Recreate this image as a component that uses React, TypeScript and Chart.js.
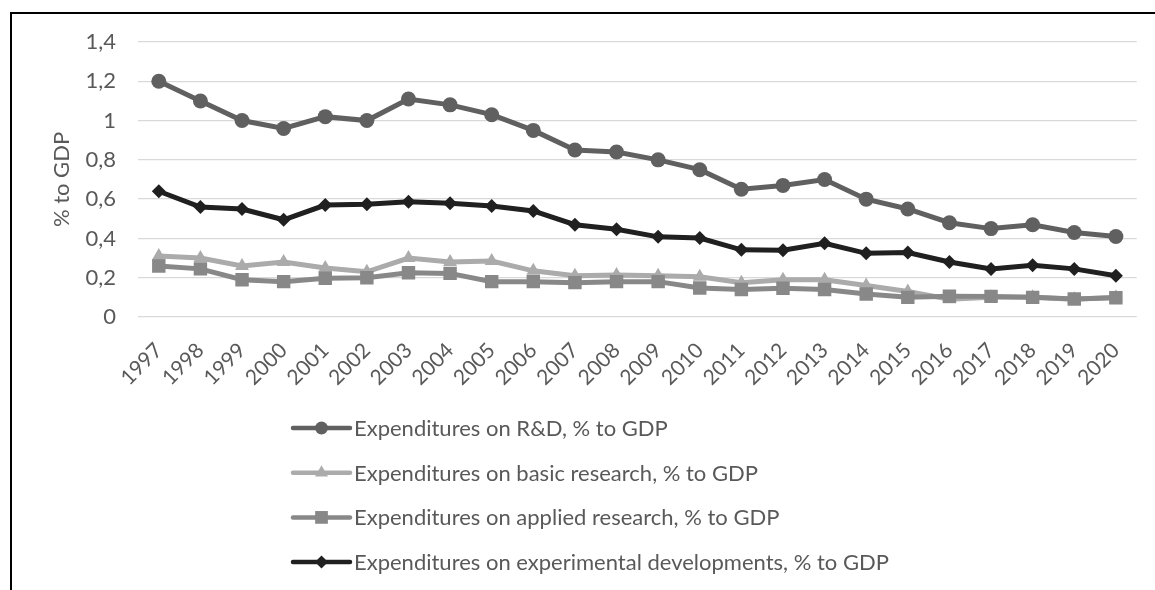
import React, { useEffect, useRef } from "react";
import { Chart, registerables } from "chart.js";

Chart.register(...registerables);

const years = [
  "1997", "1998", "1999", "2000", "2001", "2002", "2003", "2004", "2005", "2006", "2007", "2008",
  "2009", "2010", "2011", "2012", "2013", "2014", "2015", "2016", "2017", "2018", "2019", "2020",
];

const rdValues = [
  1.2, 1.1, 1.0, 0.96, 1.02, 1.0, 1.11, 1.08, 1.03, 0.95, 0.85, 0.84,
  0.8, 0.75, 0.65, 0.67, 0.7, 0.6, 0.55, 0.48, 0.45, 0.47, 0.43, 0.41,
];

const basicValues = [
  0.31, 0.3, 0.26, 0.28, 0.25, 0.23, 0.3, 0.28, 0.285, 0.235, 0.21, 0.214,
  0.21, 0.205, 0.175, 0.19, 0.19, 0.16, 0.13, 0.09, 0.1, 0.1, 0.09, 0.1,
];

const appliedValues = [
  0.26, 0.245, 0.19, 0.18, 0.197, 0.2, 0.225, 0.222, 0.18, 0.18, 0.175, 0.18,
  0.18, 0.148, 0.14, 0.146, 0.14, 0.117, 0.1, 0.106, 0.105, 0.1, 0.092, 0.098,
];

const experimentalValues = [
  0.64, 0.56, 0.55, 0.495, 0.57, 0.574, 0.587, 0.579, 0.565, 0.54, 0.47, 0.447,
  0.408, 0.402, 0.342, 0.34, 0.375, 0.324, 0.328, 0.28, 0.245, 0.264, 0.245, 0.21,
];

const seriesLabels = [
  "Expenditures on R&D, % to GDP",
  "Expenditures on basic research, % to GDP",
  "Expenditures on applied research, % to GDP",
  "Expenditures on experimental developments, % to GDP",
];

const yAxisTitle = "% to GDP";

const FONT = "Lato, 'Open Sans', sans-serif";
const TEXT_COLOR = "#595959";

function drawMarker(ctx: CanvasRenderingContext2D, style: string, x: number, y: number, r: number, color: string) {
  ctx.fillStyle = color;
  ctx.beginPath();
  if (style === "circle") {
    ctx.arc(x, y, r, 0, Math.PI * 2);
  } else if (style === "triangle") {
    ctx.moveTo(x, y - r);
    ctx.lineTo(x + r * 0.866, y + r * 0.5);
    ctx.lineTo(x - r * 0.866, y + r * 0.5);
    ctx.closePath();
  } else if (style === "rect") {
    const s = r * Math.SQRT1_2;
    ctx.rect(x - s, y - s, 2 * s, 2 * s);
  } else {
    ctx.moveTo(x - r, y);
    ctx.lineTo(x, y - r);
    ctx.lineTo(x + r, y);
    ctx.lineTo(x, y + r);
    ctx.closePath();
  }
  ctx.fill();
}

const legendPlugin = {
  id: "stackedLegend",
  afterDraw(chart: any) {
    const ctx: CanvasRenderingContext2D = chart.ctx;
    const startX = 293;
    const lineLen = 57;
    const firstRow = 428;
    const rowStep = 44.7;
    ctx.save();
    chart.data.datasets.forEach((ds: any, i: number) => {
      const y = firstRow + i * rowStep;
      ctx.strokeStyle = ds.borderColor;
      ctx.lineWidth = 4.5;
      ctx.lineCap = "round";
      ctx.beginPath();
      ctx.moveTo(startX, y);
      ctx.lineTo(startX + lineLen, y);
      ctx.stroke();
      drawMarker(ctx, ds.pointStyle, startX + lineLen / 2, y, ds.legendRadius, ds.backgroundColor);
      ctx.fillStyle = TEXT_COLOR;
      ctx.font = `22px ${FONT}`;
      ctx.textBaseline = "middle";
      ctx.textAlign = "left";
      ctx.fillText(ds.label, startX + lineLen + 4, y + 1);
    });
    ctx.restore();
  },
};

function formatTick(v: number) {
  return String(Number(v.toFixed(1))).replace(".", ",");
}

export default function App() {
  const canvasRef = useRef<HTMLCanvasElement | null>(null);

  useEffect(() => {
    if (!canvasRef.current) return;
    const colors = ["#606060", "#ababab", "#888888", "#202020"];
    const styles = ["circle", "triangle", "rect", "rectRot"];
    const radii = [7.5, 8, 9.5, 7];
    const legendRadii = [6.5, 7.5, 9, 6.5];
    const values = [rdValues, basicValues, appliedValues, experimentalValues];
    const orders = [3, 2, 1, 0];

    const chart = new Chart(canvasRef.current, {
      type: "line",
      data: {
        labels: years,
        datasets: values.map((vals, i) => ({
          label: seriesLabels[i],
          data: vals,
          borderColor: colors[i],
          backgroundColor: colors[i],
          borderWidth: 5,
          pointStyle: styles[i],
          pointRadius: radii[i],
          pointBorderWidth: 0,
          pointBackgroundColor: colors[i],
          tension: 0,
          order: orders[i],
          legendRadius: legendRadii[i],
        })) as any,
      },
      options: {
        animation: false,
        responsive: false,
        devicePixelRatio: 1,
        layout: { padding: { left: 45, right: 15, top: 42, bottom: 203 } },
        plugins: {
          legend: { display: false },
          tooltip: { enabled: false },
        },
        scales: {
          x: {
            offset: true,
            grid: { display: false, drawTicks: false },
            border: { display: false },
            ticks: {
              color: TEXT_COLOR,
              font: { family: FONT, size: 21 },
              minRotation: 45,
              maxRotation: 45,
              autoSkip: false,
              padding: 21,
            },
            afterFit: (s: any) => {
              s.height = 70;
            },
          },
          y: {
            min: 0,
            max: 1.4,
            grid: { color: "#d9d9d9", lineWidth: 1.3, drawTicks: false },
            border: { display: false },
            ticks: {
              stepSize: 0.2,
              color: TEXT_COLOR,
              font: { family: FONT, size: 22 },
              padding: 22,
              callback: (v: any) => formatTick(Number(v)),
            },
            title: {
              display: true,
              text: yAxisTitle,
              color: TEXT_COLOR,
              font: { family: FONT, size: 22, weight: "normal" },
              padding: { top: 4, bottom: 4 },
            },
            afterFit: (s: any) => {
              s.width = 93;
            },
          },
        },
      },
      plugins: [legendPlugin as any],
    });
    return () => chart.destroy();
  }, []);

  return (
    <div style={{ position: "absolute", left: 0, top: 0, width: 1155, height: 590, background: "#fff", overflow: "hidden" }}>
      <canvas ref={canvasRef} width={1155} height={590} style={{ position: "absolute", left: 0, top: 0 }} />
      <div
        style={{
          position: "absolute",
          left: 10,
          top: 12,
          width: 1150,
          height: 600,
          borderTop: "2px solid #000",
          borderLeft: "2px solid #000",
          pointerEvents: "none",
        }}
      />
    </div>
  );
}
